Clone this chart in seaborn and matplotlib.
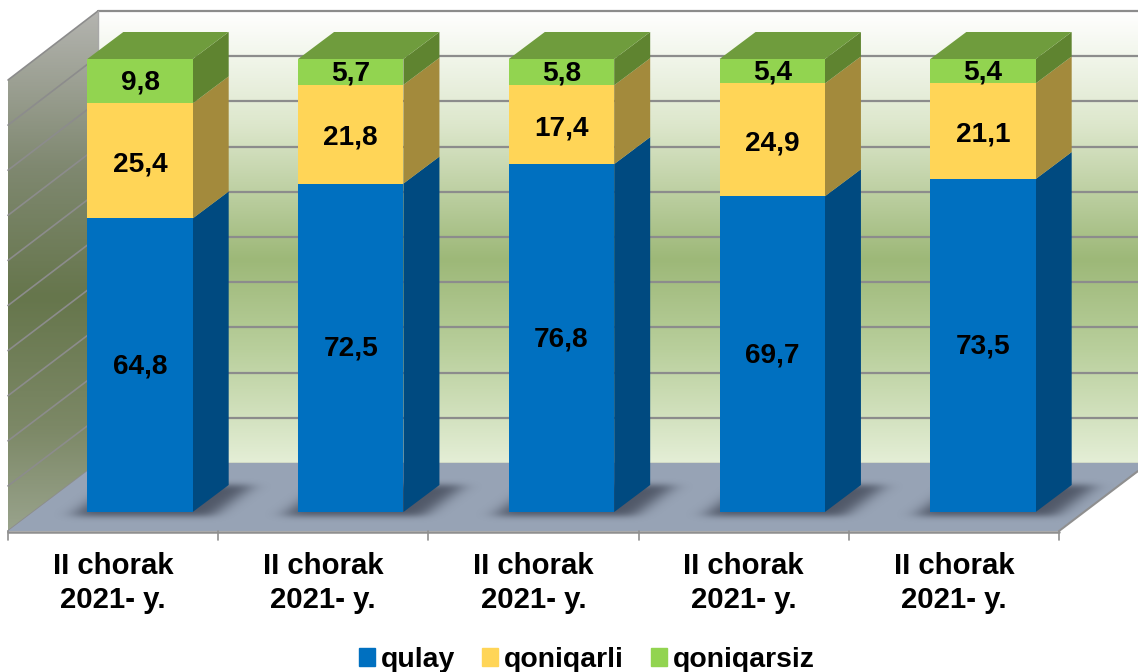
import numpy as np
import pandas as pd
import matplotlib.pyplot as plt
import seaborn as sns
from matplotlib.colors import LinearSegmentedColormap
from matplotlib.patches import Polygon, Patch

# Chart data
quarters = ['II chorak\n2021- y.'] * 5
qulay = [64.8, 72.5, 76.8, 69.7, 73.5]
qoniqarli = [25.4, 21.8, 17.4, 24.9, 21.1]
qoniqarsiz = [9.8, 5.7, 5.8, 5.4, 5.4]
series_names = ['qulay', 'qoniqarli', 'qoniqarsiz']

# Colours: front, side
front_colors = ['#0070C0', '#FFD557', '#92D450']
side_colors = ['#004A80', '#A38A3C', '#5F8430']
top_color = '#6F9C3D'
grid_color = '#8C8C8C'

sns.set_theme(style='white')
plt.rcParams['font.family'] = ['Liberation Sans', 'DejaVu Sans']
plt.rcParams['font.weight'] = 'bold'

fig = plt.figure(figsize=(11.38, 6.72), dpi=100)
ax = fig.add_axes([0, 0, 1, 1])

# Scale of the picture: one category = 210.75 px, one percent = 4.53 px
PX_X = 210.75
PX_Y = 4.53


def px(x, y):
    return (x - 140) / PX_X, (512 - y) / PX_Y


def poly(points, **kw):
    patch = Polygon([px(*p) for p in points], closed=True, lw=0, **kw)
    ax.add_patch(patch)
    return patch


def gradient(points, colors, zorder):
    # vertical gradient clipped to a polygon
    cmap = LinearSegmentedColormap.from_list('g', colors)
    ys = [p[1] for p in points]
    xs = [p[0] for p in points]
    x0, y0 = px(min(xs), max(ys))
    x1, y1 = px(max(xs), min(ys))
    img = ax.imshow(np.linspace(0, 1, 256).reshape(-1, 1), cmap=cmap, aspect='auto',
                    extent=[x0, x1, y0, y1], origin='upper', zorder=zorder)
    clip = Polygon([px(*p) for p in points], closed=True, transform=ax.transData)
    img.set_clip_path(clip)


def blur(a, sigma, axis):
    r = int(sigma * 3)
    kernel = np.exp(-0.5 * (np.arange(-r, r + 1) / sigma) ** 2)
    kernel = kernel / kernel.sum()
    return np.apply_along_axis(lambda v: np.convolve(v, kernel, mode='same'), axis, a)


# Walls
gradient([(98, 11), (1150, 11), (1150, 463), (98, 463)],
         [(0.0, '#FFFFFF'), (0.25, '#DDE7CC'), (0.55, '#9DB878'), (0.75, '#B9CF9C'), (1.0, '#E4EED6')], 1)
gradient([(8, 80), (98, 11), (98, 463), (8, 531)],
         [(0.0, '#B4B4B0'), (0.3, '#7F8870'), (0.55, '#66764C'), (0.8, '#7C8866'), (1.0, '#99A38C')], 1)

# Floor
poly([(8, 531), (98, 463), (1150, 463), (1150, 463), (1058, 531)], color='#97A3B5', zorder=2)

# Gridlines on both walls
for i in range(11):
    gx = [px(98, 463 - 45.2 * i), px(1150, 463 - 45.2 * i)]
    sx = [px(8, 531 - 45.1 * i), px(98, 463 - 45.2 * i)]
    ax.plot(*zip(*gx), color=grid_color, lw=1.6 if i else 1.0, zorder=1.5)
    ax.plot(*zip(*sx), color=grid_color, lw=1.2, zorder=1.5)
ax.plot(*zip(px(98, 11), px(98, 463)), color='#A8A8A8', lw=1.0, zorder=1.5)

# Axis line under the floor and its ticks
ax.plot(*zip(px(8, 531.5), px(1059, 531.5)), color='#8F8F8F', lw=1.8, zorder=3)
ax.plot(*zip(px(1059, 531), px(1138, 471)), color='#8F8F8F', lw=1.5, zorder=3)
for i in range(6):
    tick = 8 + 210.2 * i
    ax.plot(*zip(px(tick, 531), px(tick, 540)), color='#8F8F8F', lw=1.2, zorder=3)

# Soft shadow tile: a blurred parallelogram a little larger than the bar footprint
gy, gx_ = np.mgrid[0:70, 0:240]
run = (gy >= 20) & (gy <= 50)
offs = (50 - gy) * 36 / 27
mask = (run & (gx_ >= 25 + offs) & (gx_ <= 165 + offs)).astype(float)
mask = blur(blur(mask, 9, 1), 3, 0)
shadow = np.zeros(mask.shape + (4,))
shadow[..., :3] = (0.20, 0.22, 0.28)
shadow[..., 3] = mask * 0.7
for i in range(5):
    left = 140 + i * PX_X - 53 - 40
    x0, y0 = px(left, 512 + 23)
    x1, y1 = px(left + 240, 512 - 47)
    ax.imshow(shadow, extent=[x0, x1, y0, y1], origin='upper', aspect='auto', zorder=2.5)

# Stacked bars
df = pd.DataFrame({'pos': range(5), 'qulay': qulay, 'qoniqarli': qoniqarli, 'qoniqarsiz': qoniqarsiz})
bottom = np.zeros(5)
dx = 36 / PX_X
dy = 27 / PX_Y
label_shift = [0.8, 2.5, 0.8]
for name, front, side, shift in zip(series_names, front_colors, side_colors, label_shift):
    sns.barplot(data=df, x='pos', y=name, native_scale=True, bottom=bottom, width=0.5,
                color=front, saturation=1, linewidth=0, errorbar=None, ax=ax, zorder=4)
    bars = ax.containers[-1]
    for bar in bars:
        x0 = bar.get_x() + bar.get_width()
        y0 = bar.get_y()
        h = bar.get_height()
        ax.add_patch(Polygon([(x0, y0), (x0 + dx, y0 + dy), (x0 + dx, y0 + h + dy), (x0, y0 + h)],
                             closed=True, color=side, lw=0, zorder=3.5))
    texts = ax.bar_label(bars, labels=[f'{v:.1f}'.replace('.', ',') for v in df[name]], label_type='center',
                         fontsize=20.2, fontweight='bold', color='black', zorder=6)
    for t in texts:
        t.xyann = (0, -shift)
    bottom = bottom + df[name].to_numpy()

# Top faces of the stacks
for bar, total in zip(ax.containers[-1], bottom):
    x0 = bar.get_x()
    w = bar.get_width()
    ax.add_patch(Polygon([(x0, total), (x0 + w, total), (x0 + w + dx, total + dy), (x0 + dx, total + dy)],
                         closed=True, color=top_color, lw=0, zorder=3.5))

# Category labels
for i, label in enumerate(quarters):
    ax.text(i * 0.9975 - 0.128, px(0, 583)[1], label, ha='center', va='center', fontsize=21.2,
            fontweight='bold', color='black', linespacing=1.25)

ax.set_xlim(px(0, 0)[0], px(1138, 0)[0])
ax.set_ylim(px(0, 672)[1], px(0, 0)[1])
ax.axis('off')

# Legend
handles = [Patch(color=c, label=n) for c, n in zip(front_colors, series_names)]
fig.legend(handles=handles, loc='center', bbox_to_anchor=(587 / 1138, 1 - 660 / 672), ncol=3,
           frameon=False, fontsize=20.4, handlelength=0.55, handleheight=0.55,
           handletextpad=0.22, columnspacing=0.95, labelcolor='black')

plt.savefig('out.png', dpi=100)
